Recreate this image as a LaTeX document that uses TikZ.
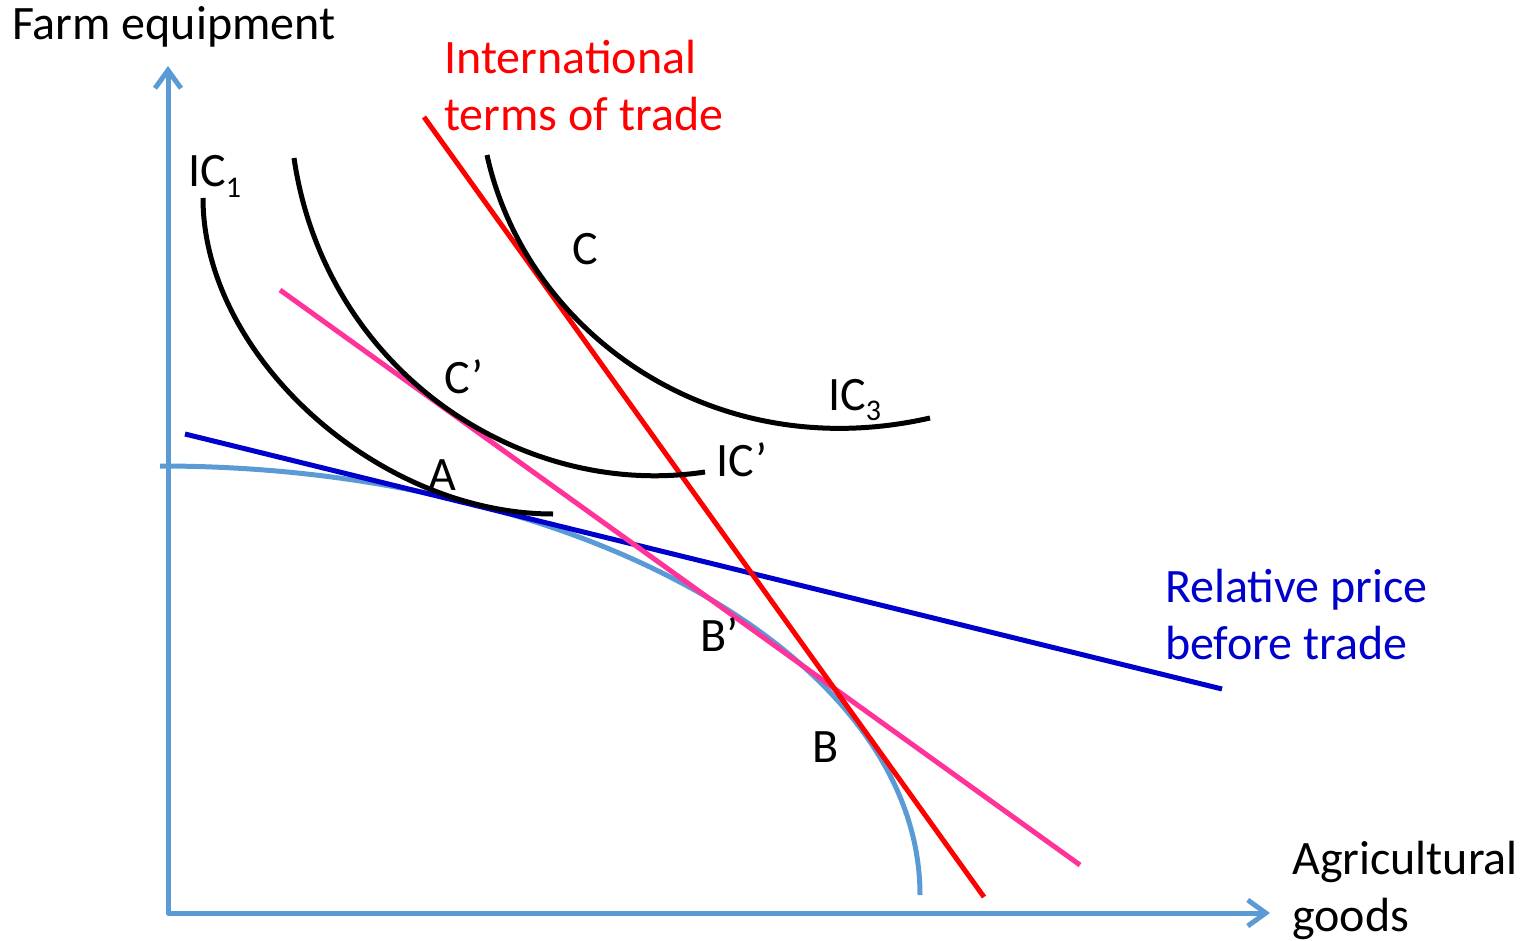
\documentclass[tikz,border=0pt]{standalone}
\usepackage{fontspec}
\setmainfont{Carlito}
\usetikzlibrary{arrows.meta}
\definecolor{axisblue}{RGB}{91,155,213}
\definecolor{darkblue}{RGB}{0,0,204}
\definecolor{pinkline}{RGB}{255,51,153}
\newcommand\mysub[1]{\raisebox{-0.22em}{\fontsize{30}{30}\selectfont #1}}
\begin{document}
\begin{tikzpicture}[x=1pt,y=-1pt,
  lab/.style={anchor=base west,inner sep=0pt,align=left,font=\fontsize{48}{57}\selectfont},
  axis/.style={axisblue,line width=5pt,line cap=round,line join=round},
  ic/.style={black,line width=5pt},
  tline/.style={line width=5pt}]
\useasboundingbox (0,0) rectangle (1522,941);
% axes
\coordinate (ytop) at (168,66);
\coordinate (orig) at (168,913);
\coordinate (xend) at (1270,913);
\draw[axis,{Straight Barb[length=18pt,width=26pt,line width=5pt]}-{Straight Barb[length=18pt,width=26pt,line width=5pt]}] (ytop) -- (orig) -- (xend);
% PPF
\coordinate (ppfs) at (160,466);
\draw[axisblue,line width=5pt] (ppfs) arc[start angle=90,end angle=0,x radius=760,y radius=-429];
% lines
\coordinate (bl1) at (185,434); \coordinate (bl2) at (1222,689);
\draw[tline,darkblue] (bl1) -- (bl2);
\coordinate (pk1) at (280,290); \coordinate (pk2) at (1080,865);
\draw[tline,pinkline] (pk1) -- (pk2);
\coordinate (rd1) at (424,117); \coordinate (rd2) at (984,897);
\draw[tline,red] (rd1) -- (rd2);
% indifference curves
\coordinate (ic1s) at (203,198); \coordinate (ic1e) at (553,514);
\draw[ic] (ic1s) .. controls (203,356) and (378,514) .. (ic1e);
\coordinate (icps) at (294,158); \coordinate (icpe) at (705,472);
\draw[ic] (icps) .. controls (325,370) and (520,500) .. (icpe);
\coordinate (ic3s) at (487,155); \coordinate (ic3e) at (930,418);
\draw[ic] (ic3s) .. controls (525,330) and (710,468) .. (ic3e);
% labels
\node[lab] (ly) at (12,40) {Farm equipment};
\node[lab,text=red] (lt) at (444,131) {International\\terms of trade};
\node[lab] (lic1) at (188,187) {IC\mysub{1}};
\node[lab] (lc) at (572,265) {C};
\node[lab] (lcp) at (444,393) {C’};
\node[lab] (lic3) at (828,410) {IC\mysub{3}};
\node[lab] (licp) at (716,476) {IC’};
\node[lab] (la) at (428,490) {A};
\node[lab,text=darkblue] (lr) at (1165,659) {Relative price\\before trade};
\node[lab] (lbp) at (700,651) {B’};
\node[lab] (lb) at (812,762) {B};
\node[lab] (lx) at (1292,931) {Agricultural\\goods};
\end{tikzpicture}
\end{document}
